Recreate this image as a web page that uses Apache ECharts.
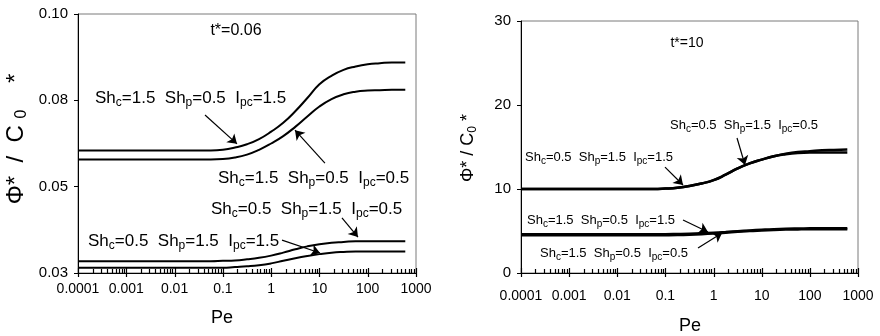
<!DOCTYPE html>
<html>
<head>
<meta charset="utf-8">
<script src="https://cdn.jsdelivr.net/npm/echarts@6/dist/echarts.min.js"></script>
<style>
html,body{margin:0;padding:0;background:#fff;}
#chart{width:880px;height:336px;}
</style>
</head>
<body>
<div id="chart"></div>
<script>
// ---------- data ----------
const peValues = [0.0001, 0.001, 0.01, 0.0316, 0.0562, 0.1, 0.178, 0.316, 0.562, 1, 1.78, 3.16, 5.62, 10, 17.8, 31.6, 56.2, 100, 178, 316, 600];
const xTickLabels = ['0.0001', '0.001', '0.01', '0.1', '1', '10', '100', '1000'];

// left panel, t*=0.06
const left_Shc15_Shp05_Ipc15 = [0.0631, 0.0631, 0.0631, 0.0631, 0.0631, 0.0633, 0.0639, 0.0648, 0.0662, 0.0682, 0.0706, 0.0737, 0.0773, 0.0810, 0.0833, 0.0849, 0.0858, 0.0864, 0.0867, 0.0869, 0.0869];
const left_Shc15_Shp05_Ipc05 = [0.0607, 0.0607, 0.0607, 0.0607, 0.0607, 0.0608, 0.0612, 0.0620, 0.0633, 0.0650, 0.0670, 0.0695, 0.0723, 0.0750, 0.0770, 0.0783, 0.0790, 0.0793, 0.0794, 0.0795, 0.0795];
const left_Shc05_Shp15_Ipc05 = [0.0332, 0.0332, 0.0332, 0.0332, 0.0332, 0.0333, 0.0334, 0.0337, 0.0341, 0.0347, 0.0355, 0.0364, 0.0372, 0.0378, 0.0382, 0.0384, 0.0386, 0.0386, 0.0386, 0.0386, 0.0386];
const left_Shc05_Shp15_Ipc15 = [0.0314, 0.0314, 0.0314, 0.0314, 0.0314, 0.0314, 0.0316, 0.0318, 0.0321, 0.0326, 0.0333, 0.0340, 0.0346, 0.0351, 0.0355, 0.0357, 0.0358, 0.0358, 0.0358, 0.0358, 0.0358];

// right panel, t*=10
const right_Shc05_Shp15_Ipc15 = [10, 10, 10, 10, 10, 10.05, 10.15, 10.35, 10.65, 11.05, 11.7, 12.45, 13.05, 13.5, 13.9, 14.15, 14.3, 14.35, 14.35, 14.35, 14.35];
const right_Shc05_Shp15_Ipc05 = [10, 10, 10, 10, 10, 10.05, 10.15, 10.35, 10.65, 11.05, 11.7, 12.45, 13.05, 13.5, 13.9, 14.2, 14.4, 14.5, 14.6, 14.65, 14.7];
const right_Shc15_Shp05_Ipc15 = [4.62, 4.62, 4.62, 4.62, 4.62, 4.62, 4.64, 4.67, 4.72, 4.79, 4.88, 4.98, 5.07, 5.15, 5.22, 5.27, 5.30, 5.32, 5.33, 5.33, 5.33];
const right_Shc15_Shp05_Ipc05 = [4.48, 4.48, 4.48, 4.48, 4.48, 4.49, 4.51, 4.55, 4.61, 4.69, 4.79, 4.90, 4.99, 5.07, 5.13, 5.17, 5.19, 5.20, 5.20, 5.20, 5.20];

// annotation arrows in data units: [PeFrom, yFrom, PeTo, yTo]
const leftArrows = [
  [0.0427, 0.0727, 0.196, 0.0649],
  [13.0, 0.0597, 3.12, 0.0686],
  [29.3, 0.0449, 62.8, 0.0397],
  [1.68, 0.0389, 10.3, 0.0354]
];
const rightArrows = [
  [3.07, 16.07, 4.5, 12.86],
  [0.098, 12.6, 0.232, 10.48],
  [0.232, 6.31, 0.766, 4.88],
  [0.475, 2.98, 1.50, 4.76]
];

// ---------- helpers ----------
const FONT = 'Liberation Sans, Arial, sans-serif';
function zip(ys) { return peValues.map((p, i) => [p, ys[i]]); }
const xAxisTicks = [];
for (let e = -4; e < 3; e++) {
  for (let k = 1; k <= 9; k++) xAxisTicks.push(+(k * Math.pow(10, e)).toPrecision(3));
}
xAxisTicks.push(1000);

function xLabel(v) {
  const i = Math.round(Math.log10(v)) + 4;
  return xTickLabels[i] !== undefined ? xTickLabels[i] : '';
}

function makeXAxis(gridIndex, labelMargin) {
  return {
    type: 'log', logBase: 10, gridIndex, min: 0.0001, max: 1000,
    axisLine: { show: true, lineStyle: { color: '#000', width: 1 } },
    axisTick: { show: false },
    axisLabel: { show: true, color: '#000', fontFamily: FONT, fontSize: 14, margin: labelMargin, formatter: xLabel, showMinLabel: true, showMaxLabel: true },
    splitLine: { show: false }
  };
}

// tick marks along the log axis (1..9 x 10^k), drawn through the axis scale
function tickSeries(xi, yi, yBase) {
  return {
    type: 'custom', xAxisIndex: xi, yAxisIndex: yi, silent: true, animation: false, clip: false, z: 10,
    data: xAxisTicks.map(v => [v, yBase]),
    encode: { x: 0, y: 1 },
    renderItem: function (params, api) {
      const v = api.value(0);
      const p = api.coord([v, api.value(1)]);
      const major = Math.abs(Math.log10(v) - Math.round(Math.log10(v))) < 1e-6;
      const x = Math.round(p[0]) + 0.5;
      const y = Math.round(p[1]);
      return {
        type: 'line',
        shape: { x1: x, y1: major ? y + 4 : y, x2: x, y2: major ? y - 5 : y - 4 },
        style: { stroke: '#000', lineWidth: 1.2 }
      };
    }
  };
}

function lineSeries(name, xi, yi, ys, width, arrows) {
  const s = {
    name, type: 'line', xAxisIndex: xi, yAxisIndex: yi,
    data: zip(ys), showSymbol: false, symbol: 'none',
    smooth: 0.5,
    lineStyle: { color: '#000', width },
    silent: true, animation: false
  };
  if (arrows) {
    s.markLine = {
      silent: true, animation: false,
      symbol: ['none', 'arrow'], symbolSize: 9,
      label: { show: false },
      lineStyle: { color: '#000', width: 1.2, type: 'solid' },
      emphasis: { disabled: true },
      data: arrows.map(a => [{ coord: [a[0], a[1]] }, { coord: [a[2], a[3]] }])
    };
  }
  return s;
}

function label(text, x, y, size, sub) {
  return {
    type: 'text', x, y, silent: true,
    style: {
      text, fill: '#000', fontFamily: FONT, fontSize: size,
      textAlign: 'left', textVerticalAlign: 'top',
      rich: {
        m: { fontFamily: FONT, fontSize: size, fill: '#000', lineHeight: size + 4 },
        s: { fontFamily: FONT, fontSize: sub, fill: '#000', verticalAlign: 'bottom', lineHeight: sub }
      }
    }
  };
}
function lab(sc, sp, ipc) {
  return `{m|Sh}{s|c}{m|=${sc}  Sh}{s|p}{m|=${sp}  I}{s|pc}{m|=${ipc}}`;
}

const chart = echarts.init(document.getElementById('chart'), null, { renderer: 'canvas', width: 880, height: 336 });

const option = {
  animation: false,
  backgroundColor: '#fff',
  grid: [
    { left: 78, right: 464, top: 14, bottom: 63, show: true, borderColor: '#7a7a7a', borderWidth: 1, backgroundColor: 'transparent' },
    { left: 521, right: 22, top: 21, bottom: 63, show: true, borderColor: '#7a7a7a', borderWidth: 1, backgroundColor: 'transparent' }
  ],
  xAxis: [makeXAxis(0, 9), makeXAxis(1, 16)],
  yAxis: [
    {
      type: 'value', gridIndex: 0, min: 0.03, max: 0.10, interval: 0.07 / 3,
      axisLine: { show: true, lineStyle: { color: '#000' } },
      axisTick: { show: true, length: 4, lineStyle: { color: '#000', width: 1 } },
      axisLabel: { color: '#000', fontFamily: FONT, fontSize: 15, margin: 10, formatter: v => v.toFixed(2) },
      splitLine: { show: false }
    },
    {
      type: 'value', gridIndex: 1, min: 0, max: 30, interval: 10,
      axisLine: { show: true, lineStyle: { color: '#000' } },
      axisTick: { show: true, length: 4, lineStyle: { color: '#000', width: 1 } },
      axisLabel: { color: '#000', fontFamily: FONT, fontSize: 15, margin: 10 },
      splitLine: { show: false }
    }
  ],
  series: [
    lineSeries('L Shc1.5 Shp0.5 Ipc1.5', 0, 0, left_Shc15_Shp05_Ipc15, 2, leftArrows),
    lineSeries('L Shc1.5 Shp0.5 Ipc0.5', 0, 0, left_Shc15_Shp05_Ipc05, 2),
    lineSeries('L Shc0.5 Shp1.5 Ipc0.5', 0, 0, left_Shc05_Shp15_Ipc05, 2),
    lineSeries('L Shc0.5 Shp1.5 Ipc1.5', 0, 0, left_Shc05_Shp15_Ipc15, 2),
    lineSeries('R Shc0.5 Shp1.5 Ipc1.5', 1, 1, right_Shc05_Shp15_Ipc15, 2.5, rightArrows),
    lineSeries('R Shc0.5 Shp1.5 Ipc0.5', 1, 1, right_Shc05_Shp15_Ipc05, 2.5),
    lineSeries('R Shc1.5 Shp0.5 Ipc1.5', 1, 1, right_Shc15_Shp05_Ipc15, 2.5),
    lineSeries('R Shc1.5 Shp0.5 Ipc0.5', 1, 1, right_Shc15_Shp05_Ipc05, 2.5),
    tickSeries(0, 0, 0.03),
    tickSeries(1, 1, 0)
  ],
  graphic: [
    label(lab('1.5', '0.5', '1.5'), 95, 88, 17, 12),
    label(lab('1.5', '0.5', '0.5'), 218, 168, 17, 12),
    label(lab('0.5', '1.5', '0.5'), 211, 199, 17, 12),
    label(lab('0.5', '1.5', '1.5'), 88, 231, 17, 12),
    label(lab('0.5', '1.5', '0.5'), 670, 117, 13, 10),
    label(lab('0.5', '1.5', '1.5'), 525, 149, 13, 10),
    label(lab('1.5', '0.5', '1.5'), 527, 212, 13, 10),
    label(lab('1.5', '0.5', '0.5'), 540, 245, 13, 10),
    { type: 'text', x: 236, y: 31, silent: true, style: { text: 't*=0.06', fill: '#000', fontFamily: FONT, fontSize: 16, textAlign: 'center', textVerticalAlign: 'middle' } },
    { type: 'text', x: 687, y: 43, silent: true, style: { text: 't*=10', fill: '#000', fontFamily: FONT, fontSize: 14, textAlign: 'center', textVerticalAlign: 'middle' } },
    { type: 'text', x: 222, y: 318, silent: true, style: { text: 'Pe', fill: '#000', fontFamily: FONT, fontSize: 18, textAlign: 'center', textVerticalAlign: 'middle' } },
    { type: 'text', x: 690, y: 326, silent: true, style: { text: 'Pe', fill: '#000', fontFamily: FONT, fontSize: 18, textAlign: 'center', textVerticalAlign: 'middle' } },
    {
      type: 'text', x: 16, y: 139, rotation: Math.PI / 2, silent: true,
      style: {
        text: '{m|Φ*  /  C }{s|0}{m|    *}', textAlign: 'center', textVerticalAlign: 'middle', fill: '#000',
        rich: {
          m: { fontFamily: FONT, fontSize: 24, fill: '#000', lineHeight: 28 },
          s: { fontFamily: FONT, fontSize: 16, fill: '#000', verticalAlign: 'bottom', lineHeight: 16 }
        }
      }
    },
    {
      type: 'text', x: 468, y: 148, rotation: Math.PI / 2, silent: true,
      style: {
        text: '{m|Φ* / C}{s|0}{m| *}', textAlign: 'center', textVerticalAlign: 'middle', fill: '#000',
        rich: {
          m: { fontFamily: FONT, fontSize: 18, fill: '#000', lineHeight: 22 },
          s: { fontFamily: FONT, fontSize: 12, fill: '#000', verticalAlign: 'bottom', lineHeight: 12 }
        }
      }
    }
  ]
};
chart.setOption(option);
</script>
</body>
</html>
